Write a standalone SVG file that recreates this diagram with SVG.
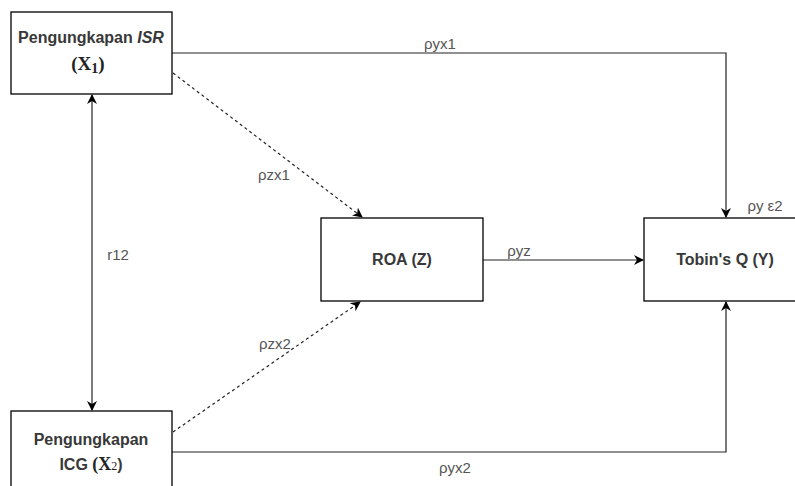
<svg xmlns="http://www.w3.org/2000/svg" width="795" height="486" viewBox="0 0 795 486">
<style>
.box{fill:#fff;stroke:#000;stroke-width:1.3}
.t{font-family:"Liberation Sans",Arial,sans-serif;font-size:16px;fill:#383838;font-weight:bold}
.l{font-family:"Liberation Sans",Arial,sans-serif;font-size:15px;fill:#555}
.m{font-family:"Liberation Serif","Times New Roman",serif;font-weight:bold;fill:#222}
.c{fill:none;stroke:#222;stroke-width:1.2}
.d{stroke-dasharray:3,3}
</style>
<defs>
<marker id="ah" viewBox="0 0 10 10" refX="9" refY="5" markerWidth="10" markerHeight="10" markerUnits="userSpaceOnUse" orient="auto-start-reverse">
<path d="M0,0 L10,5 L0,10 L3,5 Z" fill="#000"/>
</marker>
</defs>
<rect width="795" height="486" fill="#fff"/>
<g id="connectors">
<path class="c" d="M172,53 H726 V217" marker-end="url(#ah)"/>
<path class="c" d="M172,452 H726 V302" marker-end="url(#ah)"/>
<path class="c" d="M483,260 H643" marker-end="url(#ah)"/>
<path class="c d" d="M173,73 L362,217" marker-end="url(#ah)"/>
<path class="c d" d="M173,432 L360,302" marker-end="url(#ah)"/>
<path class="c" d="M92,95 V410" marker-start="url(#ah)" marker-end="url(#ah)"/>
<text class="l" x="440" y="49" text-anchor="middle">ρyx1</text>
<text class="l" x="455" y="473" text-anchor="middle">ρyx2</text>
<text class="l" x="519" y="256" text-anchor="middle">ρyz</text>
<text class="l" x="274" y="180" text-anchor="middle">ρzx1</text>
<text class="l" x="275" y="349" text-anchor="middle">ρzx2</text>
<text class="l" x="118" y="260" text-anchor="middle">r12</text>
<text class="l" x="765" y="211" text-anchor="middle">ρy  ε2</text>
</g>
<g id="node-x1">
<rect class="box" x="11" y="12" width="161" height="82"/>
<text class="t" x="91" y="43" text-anchor="middle">Pengungkapan <tspan font-style="italic">ISR</tspan></text>
<text class="m" x="88" y="70" text-anchor="middle" font-size="19">(X<tspan font-size="14" dy="3">1</tspan><tspan dy="-3">)</tspan></text>
</g>
<g id="node-x2">
<rect class="box" x="11" y="411" width="161" height="82"/>
<text class="t" x="91" y="445" text-anchor="middle">Pengungkapan</text>
<text class="t" x="91" y="470" text-anchor="middle">ICG <tspan class="m" font-size="18">(X<tspan font-size="12" font-weight="normal">2</tspan></tspan>)</text>
</g>
<g id="node-roa">
<rect class="box" x="321" y="218" width="162" height="83"/>
<text class="t" x="402" y="265" text-anchor="middle">ROA (Z)</text>
</g>
<g id="node-tobin">
<rect class="box" x="644" y="218" width="162" height="83"/>
<text class="t" x="725" y="265" text-anchor="middle">Tobin's Q (Y)</text>
</g>
</svg>
